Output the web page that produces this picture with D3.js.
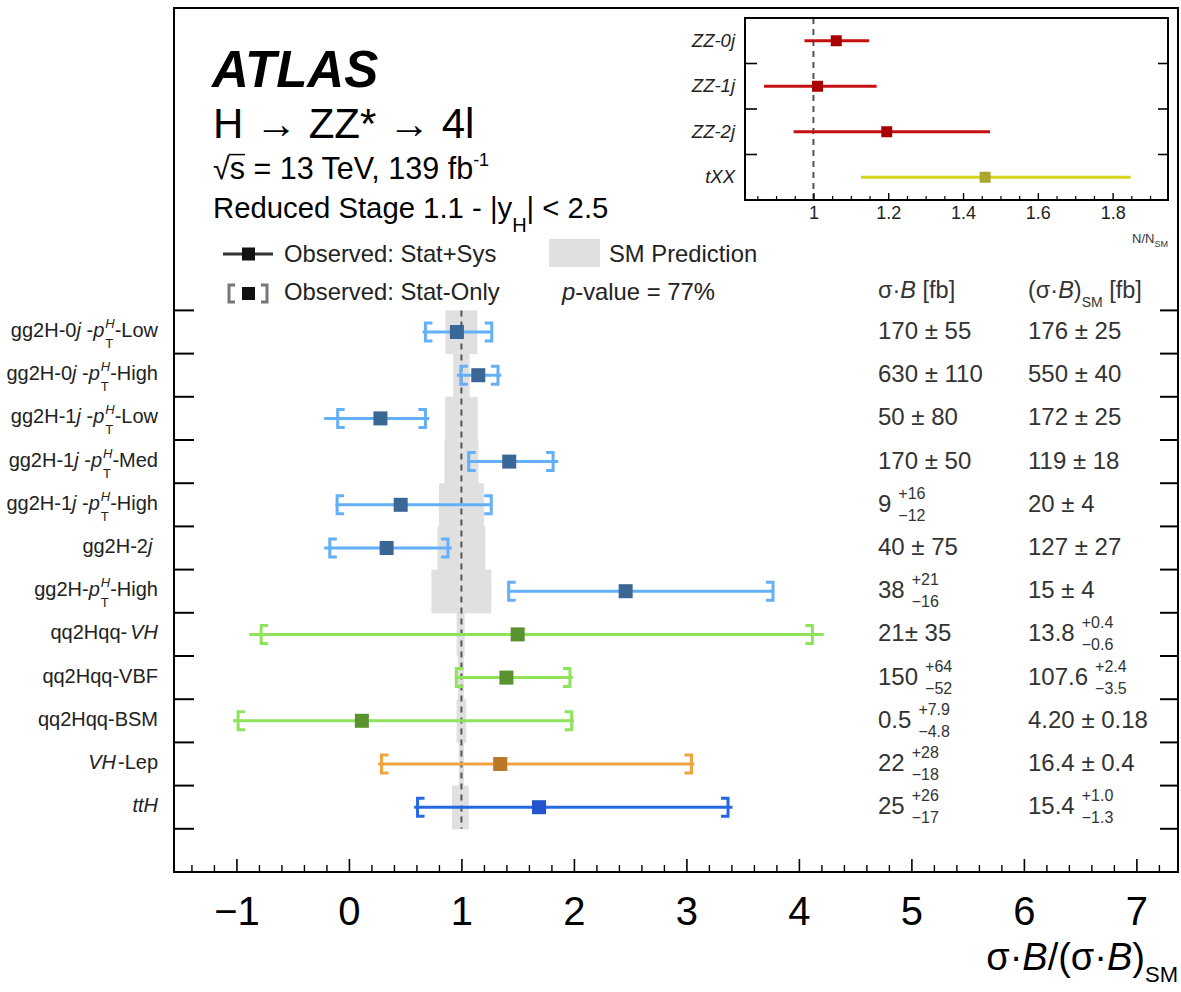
<!DOCTYPE html>
<html><head><meta charset="utf-8">
<script src="https://cdn.jsdelivr.net/npm/d3@7"></script>
<style>
body{margin:0;background:#fff;}
svg{display:block;font-family:"Liberation Sans",Arial,Helvetica,sans-serif;}
text{white-space:pre;}
</style></head><body>
<svg id="c" width="1181" height="992"></svg>
<script>
// ---------------- data ----------------
const categories = ["gg2H-0j-pT-Low","gg2H-0j-pT-High","gg2H-1j-pT-Low","gg2H-1j-pT-Med","gg2H-1j-pT-High","gg2H-2j","gg2H-pT-High","qq2Hqq-VH","qq2Hqq-VBF","qq2Hqq-BSM","VH-Lep","ttH"];
const groups = ["gg","gg","gg","gg","gg","gg","gg","qq","qq","qq","vh","tth"];
const ratio  = [0.96, 1.15, 0.28, 1.425, 0.46, 0.335, 2.46, 1.50, 1.40, 0.115, 1.345, 1.69];
const totLo  = [0.655, 0.96, -0.22, 1.05, -0.12, -0.22, 1.41, -0.885, 0.94, -1.03, 0.26, 0.58];
const totHi  = [1.28, 1.355, 0.715, 1.86, 1.275, 0.915, 3.775, 4.22, 1.99, 2.00, 3.07, 3.41];
const statLo = [0.68, 0.995, -0.10, 1.065, -0.105, -0.17, 1.42, -0.78, 0.955, -0.985, 0.29, 0.61];
const statHi = [1.27, 1.325, 0.68, 1.815, 1.265, 0.88, 3.77, 4.12, 1.965, 1.98, 3.045, 3.37];
const smRelDown = [0.142, 0.073, 0.145, 0.151, 0.20, 0.213, 0.267, 0.043, 0.033, 0.043, 0.024, 0.084];
const smRelUp   = [0.142, 0.073, 0.145, 0.151, 0.20, 0.213, 0.267, 0.029, 0.022, 0.043, 0.024, 0.065];

const obsMain = ["170 ± 55","630 ± 110","50 ± 80","170 ± 50","9","40 ± 75","38","21± 35","150","0.5","22","25"];
const obsUp   = [null,null,null,null,"+16",null,"+21",null,"+64","+7.9","+28","+26"];
const obsDown = [null,null,null,null,"−12",null,"−16",null,"−52","−4.8","−18","−17"];
const smMain  = ["176 ± 25","550 ± 40","172 ± 25","119 ± 18","20 ± 4","127 ± 27","15 ± 4","13.8","107.6","4.20 ± 0.18","16.4 ± 0.4","15.4"];
const smUp    = [null,null,null,null,null,null,null,"+0.4","+2.4",null,null,"+1.0"];
const smDown  = [null,null,null,null,null,null,null,"−0.6","−3.5",null,null,"−1.3"];

const xTicks = [-1,0,1,2,3,4,5,6,7];

const insetCats = ["ZZ-0j","ZZ-1j","ZZ-2j","tXX"];
const insetVal  = [1.061, 1.011, 1.196, 1.459];
const insetLo   = [0.976, 0.868, 0.947, 1.127];
const insetHi   = [1.149, 1.169, 1.472, 1.848];
const insetGroups = ["zz","zz","zz","txx"];
const insetTicks = [1, 1.2, 1.4, 1.6, 1.8];

// ---------------- styles ----------------
const lineColor = {gg:"#63b0f8", qq:"#8fe35a", vh:"#f1a33e", tth:"#2668e4", zz:"#c41010", txx:"#d6d41e"};
const markColor = {gg:"#3a6795", qq:"#5a9230", vh:"#b97826", tth:"#2254cf", zz:"#a80000", txx:"#a8a62c"};

const svg = d3.select("#c");
svg.append("rect").attr("width",1181).attr("height",992).attr("fill","#fff");

// ---------------- scales ----------------
const F = {l:174, r:1178, t:8, b:872};
const x = d3.scaleLinear().domain([-1.555, 7.37]).range([F.l, F.r]);
const yUnit = d3.scaleLinear().domain([-7, 13]).range([F.t, F.b]);
const y = d3.scaleBand().domain(categories).range([yUnit(0), yUnit(12)]).padding(0);
const bw = y.bandwidth();
const yc = c => y(c) + bw/2;

// rich text helper
function rich(parent, x0, y0, size, parts, anchor, fill) {
  const g = parent.append("g").attr("fill", fill || "#000");
  let cx = 0;
  parts.forEach(p => {
    if (p.stack) {
      let w = 0;
      p.stack.forEach(q => {
        const t = g.append("text").attr("x", cx + (q.dx||0)).attr("y", q.dy||0)
          .attr("font-size", q.s||size).attr("font-style", q.i ? "italic" : null).text(q.t);
        w = Math.max(w, t.node().getComputedTextLength() + (q.dx||0));
      });
      cx += w;
    } else {
      cx += p.dx || 0;
      const t = g.append("text").attr("x", cx).attr("y", p.dy||0)
        .attr("font-size", p.s||size).attr("font-style", p.i ? "italic" : null)
        .attr("font-weight", p.b ? "bold" : null).text(p.t);
      const w = t.node().getComputedTextLength();
      if (p.ov) {
        const s = p.s||size;
        g.append("line").attr("x1", cx-1).attr("x2", cx+w).attr("y1", (p.dy||0) - s*0.8).attr("y2", (p.dy||0) - s*0.8)
          .attr("stroke", fill||"#000").attr("stroke-width", 1.5);
      }
      cx += w + (p.dxa||0);
    }
  });
  const ox = anchor === "end" ? x0 - cx : anchor === "middle" ? x0 - cx/2 : x0;
  g.attr("transform", `translate(${ox},${y0})`);
  return cx;
}

// ---------------- main frame content ----------------
// SM band
svg.append("g").selectAll("rect").data(categories).join("rect")
  .attr("x", (c,i) => x(1 - smRelDown[i]))
  .attr("width", (c,i) => x(1 + smRelUp[i]) - x(1 - smRelDown[i]))
  .attr("y", c => y(c)).attr("height", bw + 0.5)
  .attr("fill", "#e0e0e0");

// dashed SM line
svg.append("line").attr("x1", x(1)).attr("x2", x(1))
  .attr("y1", yUnit(0)).attr("y2", yUnit(12))
  .attr("stroke", "#555").attr("stroke-width", 2).attr("stroke-dasharray", "6,5");

// error bars
const eb = svg.append("g");
categories.forEach((c, i) => {
  const col = lineColor[groups[i]], yy = yc(c), h = 9, tip = 7;
  eb.append("line").attr("x1", x(totLo[i])).attr("x2", x(totHi[i])).attr("y1", yy).attr("y2", yy)
    .attr("stroke", col).attr("stroke-width", 3);
  const xl = x(statLo[i]), xr = x(statHi[i]);
  eb.append("path").attr("d", `M${xl+tip},${yy-h}H${xl}V${yy+h}H${xl+tip}`)
    .attr("fill","none").attr("stroke", col).attr("stroke-width", 3);
  eb.append("path").attr("d", `M${xr-tip},${yy-h}H${xr}V${yy+h}H${xr-tip}`)
    .attr("fill","none").attr("stroke", col).attr("stroke-width", 3);
  eb.append("rect").attr("x", x(ratio[i]) - 7).attr("y", yy - 7).attr("width", 14).attr("height", 14)
    .attr("fill", markColor[groups[i]]);
});

// bottom axis (ticks inward)
const axMaj = d3.axisBottom(x).tickValues(xTicks).tickSize(-13).tickPadding(25)
  .tickFormat(d3.format("d"));
const gMaj = svg.append("g").attr("transform", `translate(0,${F.b})`).call(axMaj);
gMaj.select(".domain").remove();
gMaj.selectAll("line").attr("stroke","#000").attr("stroke-width",1.6);
gMaj.selectAll("text").attr("font-size", 40).attr("fill","#000")
  .attr("font-family","'Liberation Sans',Arial,sans-serif");
const minorVals = d3.range(-14, 74, 2).map(v => v/10).filter(v => Math.abs(v - Math.round(v)) > 1e-6);
const gMin = svg.append("g").attr("transform", `translate(0,${F.b})`)
  .call(d3.axisBottom(x).tickValues(minorVals).tickSize(-7).tickFormat(""));
gMin.select(".domain").remove();
gMin.selectAll("line").attr("stroke","#000").attr("stroke-width",1.4);

// left/right category ticks
const bounds = categories.map(c => y(c)).concat([y(categories[categories.length-1]) + bw]);
svg.append("g").selectAll("line").data(bounds).join("line")
  .attr("x1", F.l).attr("x2", F.l + 20).attr("y1", d => d).attr("y2", d => d)
  .attr("stroke","#000").attr("stroke-width",2);
svg.append("g").selectAll("line").data(bounds).join("line")
  .attr("x1", F.r - 18).attr("x2", F.r).attr("y1", d => d).attr("y2", d => d)
  .attr("stroke","#000").attr("stroke-width",2);

// frame
svg.append("rect").attr("x", F.l).attr("y", F.t).attr("width", F.r - F.l).attr("height", F.b - F.t)
  .attr("fill","none").attr("stroke","#000").attr("stroke-width",2);

// ---------------- left labels ----------------
const pt = suf => [{t:"p", i:1}, {stack:[{t:"H", i:1, s:13, dy:-9, dx:1}, {t:"T", s:13, dy:11, dx:1}]}, {t:suf}];
const labelParts = [
  [{t:"gg2H-0"},{t:"j",i:1},{t:" -"}].concat(pt("-Low")),
  [{t:"gg2H-0"},{t:"j",i:1},{t:" -"}].concat(pt("-High")),
  [{t:"gg2H-1"},{t:"j",i:1},{t:" -"}].concat(pt("-Low")),
  [{t:"gg2H-1"},{t:"j",i:1},{t:" -"}].concat(pt("-Med")),
  [{t:"gg2H-1"},{t:"j",i:1},{t:" -"}].concat(pt("-High")),
  [{t:"gg2H-2"},{t:"j",i:1},{t:" "}],
  [{t:"gg2H-"}].concat(pt("-High")),
  [{t:"qq2Hqq-"},{t:"VH",i:1,dx:3}],
  [{t:"qq2Hqq-VBF"}],
  [{t:"qq2Hqq-BSM"}],
  [{t:"VH",i:1},{t:"-Lep",dx:2}],
  [{t:"ttH",i:1}]
];
categories.forEach((c,i) => rich(svg, 158, yc(c) + 5, 20, labelParts[i], "end", "#222"));

// ---------------- right columns ----------------
const colA = 878, colB = 1028;
rich(svg, colA, 298, 23.5, [{t:"σ·"},{t:"B",i:1},{t:" [fb]"}], "start", "#333");
rich(svg, colB, 298, 23.5, [{t:"(σ·"},{t:"B",i:1},{t:")"},{t:"SM",s:14,dy:9},{t:" [fb]"}], "start", "#333");
function valueCell(x0, yy, main, up, down) {
  if (up) {
    rich(svg, x0, yy, 24, [{t:main, dxa:7}, {stack:[{t:up, s:16, dy:-13}, {t:down, s:16, dy:9}]}], "start", "#333");
  } else {
    rich(svg, x0, yy, 24, [{t:main}], "start", "#333");
  }
}
categories.forEach((c,i) => {
  const yy = yc(c) + 7;
  valueCell(colA, yy, obsMain[i], obsUp[i], obsDown[i]);
  valueCell(colB, yy, smMain[i], smUp[i], smDown[i]);
});

// axis title
rich(svg, 1178, 970, 38, [{t:"σ·"},{t:"B",i:1},{t:"/(σ·"},{t:"B",i:1},{t:")"},{t:"SM",s:22,dy:12}], "end", "#000");

// ---------------- top-left texts ----------------
rich(svg, 212, 87, 51, [{t:"ATLAS", b:1, i:1}], "start", "#000");
rich(svg, 213, 138, 42, [{t:"H → ZZ* → 4l"}], "start", "#000");
rich(svg, 213, 179, 30.5, [{t:"√"},{t:"s",ov:1},{t:" = 13 TeV, 139 fb"},{t:"-1",s:18,dy:-13}], "start", "#000");
rich(svg, 213, 218, 29.3, [{t:"Reduced Stage 1.1 - |y"},{t:"H",s:20,dy:14},{t:"| < 2.5"}], "start", "#000");

// legend
const lg = svg.append("g");
lg.append("line").attr("x1",223).attr("x2",273).attr("y1",254).attr("y2",254).attr("stroke","#333").attr("stroke-width",3);
lg.append("rect").attr("x",242).attr("y",247.5).attr("width",13).attr("height",13).attr("fill","#111");
rich(svg, 284, 262, 23.8, [{t:"Observed: Stat+Sys"}], "start", "#222");
lg.append("path").attr("d","M235,285H229V302H235").attr("fill","none").attr("stroke","#777").attr("stroke-width",3);
lg.append("path").attr("d","M261,285H267V302H261").attr("fill","none").attr("stroke","#777").attr("stroke-width",3);
lg.append("rect").attr("x",242).attr("y",287).attr("width",13).attr("height",13).attr("fill","#111");
rich(svg, 284, 300, 23.8, [{t:"Observed: Stat-Only"}], "start", "#222");
lg.append("rect").attr("x",549).attr("y",239).attr("width",51).attr("height",28).attr("fill","#e0e0e0");
rich(svg, 609, 262, 23.8, [{t:"SM Prediction"}], "start", "#222");
rich(svg, 562, 300, 23.8, [{t:"p",i:1},{t:"-value = 77%"}], "start", "#222");

// ---------------- inset ----------------
const I = {l:745, r:1168, t:18, b:200};
const xi = d3.scaleLinear().domain([0.817, 1.948]).range([I.l, I.r]);
const yi = d3.scaleBand().domain(insetCats).range([I.t, I.b]);
const ib = yi.bandwidth();
const ins = svg.append("g");
ins.append("rect").attr("x",I.l).attr("y",I.t).attr("width",I.r-I.l).attr("height",I.b-I.t).attr("fill","#fff");
ins.append("line").attr("x1",xi(1)).attr("x2",xi(1)).attr("y1",I.t).attr("y2",I.b)
  .attr("stroke","#555").attr("stroke-width",2).attr("stroke-dasharray","6,5");
insetCats.forEach((c,i) => {
  const yy = yi(c) + ib/2;
  ins.append("line").attr("x1",xi(insetLo[i])).attr("x2",xi(insetHi[i])).attr("y1",yy).attr("y2",yy)
    .attr("stroke",lineColor[insetGroups[i]]).attr("stroke-width",3);
  ins.append("rect").attr("x",xi(insetVal[i])-5.5).attr("y",yy-5.5).attr("width",11).attr("height",11)
    .attr("fill",markColor[insetGroups[i]]);
  rich(ins, 735, yy + 6, 18.5, [{t:c, i:1}], "end", "#222");
});
const iMaj = ins.append("g").attr("transform",`translate(0,${I.b})`)
  .call(d3.axisBottom(xi).tickValues(insetTicks).tickSize(-7).tickPadding(6).tickFormat(d => String(+d.toFixed(1))));
iMaj.select(".domain").remove();
iMaj.selectAll("line").attr("stroke","#000").attr("stroke-width",1.4);
iMaj.selectAll("text").attr("font-size",18).attr("fill","#222").attr("font-family","'Liberation Sans',Arial,sans-serif");
const iMinorVals = d3.range(17, 39).map(v => v*0.05).filter(v => Math.abs(v*5 - Math.round(v*5)) > 1e-6);
const iMin = ins.append("g").attr("transform",`translate(0,${I.b})`)
  .call(d3.axisBottom(xi).tickValues(iMinorVals).tickSize(-4).tickFormat(""));
iMin.select(".domain").remove();
iMin.selectAll("line").attr("stroke","#000").attr("stroke-width",1.2);
const iBounds = insetCats.slice(1).map(c => yi(c));
ins.append("g").selectAll("line").data(iBounds).join("line")
  .attr("x1",I.l).attr("x2",I.l+12).attr("y1",d=>d).attr("y2",d=>d).attr("stroke","#000").attr("stroke-width",1.6);
ins.append("g").selectAll("line").data(iBounds).join("line")
  .attr("x1",I.r-10).attr("x2",I.r).attr("y1",d=>d).attr("y2",d=>d).attr("stroke","#000").attr("stroke-width",1.6);
ins.append("rect").attr("x",I.l).attr("y",I.t).attr("width",I.r-I.l).attr("height",I.b-I.t)
  .attr("fill","none").attr("stroke","#000").attr("stroke-width",2);
rich(ins, 1168, 243, 13, [{t:"N/N"},{t:"SM",s:9,dy:4}], "end", "#333");
</script>
</body></html>
